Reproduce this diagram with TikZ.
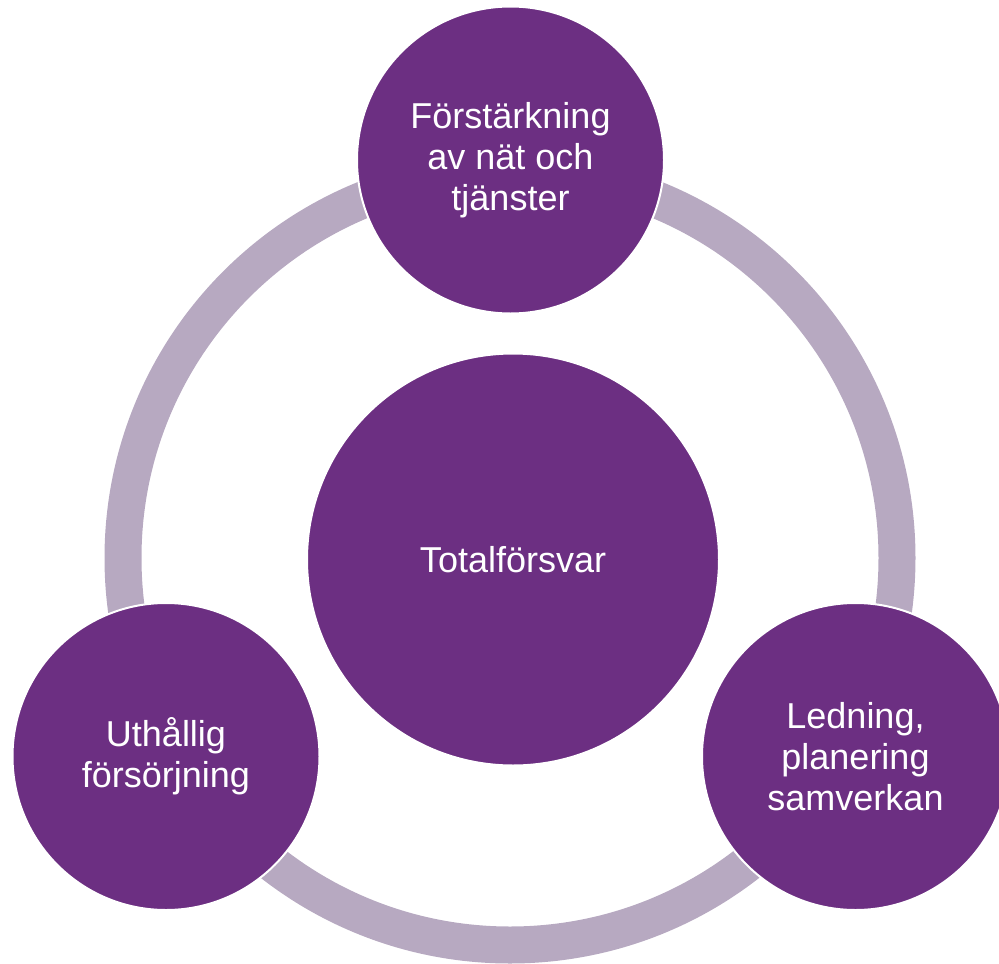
\documentclass[tikz,border=0pt]{standalone}
\usepackage{fontspec}
\setmainfont{Liberation Sans}
\definecolor{purp}{RGB}{108,47,130}
\definecolor{ringcol}{RGB}{183,169,193}
\begin{document}
\begin{tikzpicture}[x=1pt,y=-1pt,
  bubble/.style={circle, fill=purp, draw=white, line width=2pt, inner sep=0pt,
    text=white, align=center, font=\fontsize{36}{41}\selectfont},
  small/.style={bubble, minimum size=307pt},
  big/.style={bubble, minimum size=412pt}]
\useasboundingbox (0,0) rectangle (999,964);
\coordinate (c) at (510,558);
\draw[ringcol, line width=37pt] (c) circle[radius=387pt];
\node[big] (center) at (513,559.5) {Totalförsvar};
\node[small] (top) at (510.5,160) {Förstärkning\\av nät och\\tjänster};
\node[small] (left) at (166,756.5) {Uthållig\\försörjning};
\node[small] (right) at (855.5,756.5) {Ledning,\\planering\\samverkan};
\end{tikzpicture}
\end{document}
